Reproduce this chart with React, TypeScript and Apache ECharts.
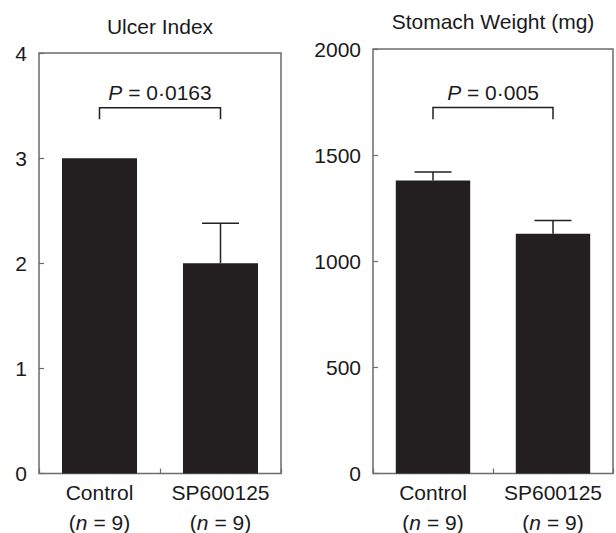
import React, { useEffect, useRef } from "react";
import * as echarts from "echarts";

const categories = ["Control", "SP600125"];
const groupN = [9, 9];

const ulcerValues = [3.0, 2.0];
const ulcerErrors = [0, 0.38];
const ulcerTicks = [0, 1, 2, 3, 4];
const ulcerBracket = [3.48, 3.37]; // bar level, leg end
const ulcerP = "0·0163";

const weightValues = [1380, 1130];
const weightErrors = [40, 62];
const weightTicks = [0, 500, 1000, 1500, 2000];
const weightBracket = [1724, 1669];
const weightP = "0·005";

const FONT = "'Liberation Sans', Arial, Helvetica, sans-serif";
const FS = 21;
const TEXT = "#1a1a1a";
const BAR = "#231f20";
const BORDER = "#6b6b6b";

function errorRender(params: any, api: any) {
  const x = api.value(0);
  const v = api.value(1);
  const e = api.value(2);
  if (!e) return null;
  const base = api.coord([x, v]);
  const top = api.coord([x, v + e]);
  const half = 18.5;
  return {
    type: "group",
    children: [
      {
        type: "line",
        shape: { x1: base[0], y1: base[1], x2: top[0], y2: top[1] },
        style: { stroke: BAR, lineWidth: 1.5 },
      },
      {
        type: "line",
        shape: { x1: top[0] - half, y1: top[1], x2: top[0] + half, y2: top[1] },
        style: { stroke: BAR, lineWidth: 1.5 },
      },
    ],
  };
}

function bracketRender(pText: string) {
  return (params: any, api: any) => {
    const a = api.value(0);
    const b = api.value(1);
    const yTop = api.value(2);
    const yLeg = api.value(3);
    const p0 = api.coord([a, yTop]);
    const p1 = api.coord([b, yTop]);
    const l0 = api.coord([a, yLeg]);
    const l1 = api.coord([b, yLeg]);
    return {
      type: "group",
      children: [
        {
          type: "polyline",
          shape: { points: [l0, p0, p1, l1] },
          style: { stroke: BAR, lineWidth: 1.5, fill: "none" },
        },
        {
          type: "text",
          x: (p0[0] + p1[0]) / 2,
          y: p0[1] - 15,
          style: {
            text: `{i|P}{a| = ${pText}}`,
            align: "center",
            verticalAlign: "middle",
            rich: {
              i: { fontStyle: "italic", fontSize: FS, fontFamily: FONT, fill: TEXT },
              a: { fontSize: FS, fontFamily: FONT, fill: TEXT },
            },
          },
        },
      ],
    };
  };
}

const labelRich = {
  a: { fontSize: FS, fontFamily: FONT, color: TEXT, lineHeight: 30 },
  i: { fontSize: FS, fontFamily: FONT, color: TEXT, lineHeight: 30, fontStyle: "italic" },
};

function xAxisFor(gridIndex: number) {
  return {
    type: "category",
    gridIndex,
    data: categories,
    axisLine: { show: false },
    axisTick: { show: true, inside: true, length: 5, lineStyle: { color: BORDER, width: 1.2 } },
    axisLabel: {
      margin: 4,
      interval: 0,
      formatter: (v: string, idx: number) => `{a|${v}}\n{a|(}{i|n}{a| = ${groupN[idx]})}`,
      rich: labelRich,
    },
  };
}

function yAxisFor(gridIndex: number, ticks: number[]) {
  return {
    type: "value",
    gridIndex,
    min: ticks[0],
    max: ticks[ticks.length - 1],
    interval: ticks[1] - ticks[0],
    splitLine: { show: false },
    axisLine: { show: false },
    axisTick: { show: true, inside: true, length: 5, lineStyle: { color: BORDER, width: 1.2 } },
    axisLabel: { margin: 12, fontSize: FS, fontFamily: FONT, color: TEXT, formatter: (v: number) => String(v) },
  };
}

export default function App() {
  const ref = useRef<HTMLDivElement>(null);
  useEffect(() => {
    if (!ref.current) return;
    const chart = echarts.init(ref.current, undefined, { renderer: "svg" });
    chart.setOption({
      animation: false,
      backgroundColor: "#ffffff",
      textStyle: { fontFamily: FONT },
      grid: [
        { left: 39, top: 53, width: 242, height: 421, show: true, borderColor: BORDER, borderWidth: 1.5, backgroundColor: "transparent" },
        { left: 373, top: 49, width: 240, height: 425, show: true, borderColor: BORDER, borderWidth: 1.5, backgroundColor: "transparent" },
      ],
      xAxis: [xAxisFor(0), xAxisFor(1)],
      yAxis: [yAxisFor(0, ulcerTicks), yAxisFor(1, weightTicks)],
      graphic: [
        { type: "text", x: 160, y: 26, style: { text: "Ulcer Index", align: "center", verticalAlign: "middle", fontSize: FS, fontFamily: FONT, fill: TEXT } },
        { type: "text", x: 493, y: 21, style: { text: "Stomach Weight (mg)", align: "center", verticalAlign: "middle", fontSize: FS, fontFamily: FONT, fill: TEXT } },
      ],
      series: [
        {
          type: "bar",
          xAxisIndex: 0,
          yAxisIndex: 0,
          data: ulcerValues,
          barWidth: "62%",
          itemStyle: { color: BAR },
          z: 2,
        },
        {
          type: "custom",
          xAxisIndex: 0,
          yAxisIndex: 0,
          renderItem: errorRender,
          data: ulcerValues.map((v, i) => [i, v, ulcerErrors[i]]),
          encode: { x: 0, y: 1 },
          z: 3,
        },
        {
          type: "custom",
          xAxisIndex: 0,
          yAxisIndex: 0,
          renderItem: bracketRender(ulcerP),
          data: [[0, 1, ulcerBracket[0], ulcerBracket[1]]],
          encode: { x: 0, y: 2 },
          z: 3,
        },
        {
          type: "bar",
          xAxisIndex: 1,
          yAxisIndex: 1,
          data: weightValues,
          barWidth: "62%",
          itemStyle: { color: BAR },
          z: 2,
        },
        {
          type: "custom",
          xAxisIndex: 1,
          yAxisIndex: 1,
          renderItem: errorRender,
          data: weightValues.map((v, i) => [i, v, weightErrors[i]]),
          encode: { x: 0, y: 1 },
          z: 3,
        },
        {
          type: "custom",
          xAxisIndex: 1,
          yAxisIndex: 1,
          renderItem: bracketRender(weightP),
          data: [[0, 1, weightBracket[0], weightBracket[1]]],
          encode: { x: 0, y: 2 },
          z: 3,
        },
      ],
    });
    return () => chart.dispose();
  }, []);
  return <div ref={ref} style={{ width: 616, height: 533, position: "absolute", left: 0, top: 0 }} />;
}
